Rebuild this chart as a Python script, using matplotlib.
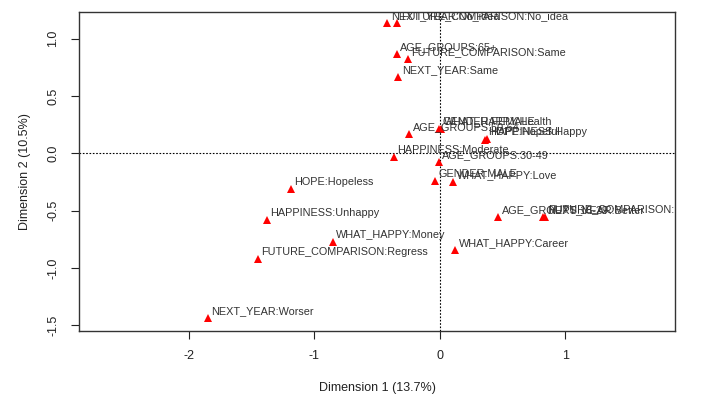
import matplotlib
matplotlib.use("Agg")
import matplotlib.pyplot as plt

plt.rcParams['font.family'] = ['Liberation Sans', 'DejaVu Sans']

labels = [
    "NEXT_YEAR:No_idea", "FUTURE_COMPARISON:No_idea",
    "AGE_GROUPS:65+", "FUTURE_COMPARISON:Same", "NEXT_YEAR:Same",
    "AGE_GROUPS:50-64", "GENDER:FEMALE", "WHAT_HAPPY:Health",
    "HOPE:Hopeful", "HAPPINESS:Happy",
    "HAPPINESS:Moderate", "AGE_GROUPS:30-49",
    "GENDER:MALE", "WHAT_HAPPY:Love",
    "HOPE:Hopeless", "HAPPINESS:Unhappy",
    "AGE_GROUPS:18-29", "NEXT_YEAR:Better", "FUTURE_COMPARISON:Improve",
    "WHAT_HAPPY:Money", "FUTURE_COMPARISON:Regress", "WHAT_HAPPY:Career",
    "NEXT_YEAR:Worser",
]
dim1 = [-0.42, -0.34,
        -0.345, -0.255, -0.33,
        -0.245, -0.01, 0.005,
        0.36, 0.375,
        -0.367, -0.01,
        -0.04, 0.106,
        -1.187, -1.378,
        0.465, 0.823, 0.836,
        -0.853, -1.45, 0.122,
        -1.849]
dim2 = [1.136, 1.136,
        0.866, 0.822, 0.663,
        0.166, 0.21, 0.215,
        0.12, 0.125,
        -0.032, -0.078,
        -0.242, -0.253,
        -0.311, -0.581,
        -0.558, -0.553, -0.553,
        -0.773, -0.922, -0.843,
        -1.436]

xlabel = "Dimension 1 (13.7%)"
ylabel = "Dimension 2 (10.5%)"
xticks = [-2, -1, 0, 1]
yticks = [-1.5, -1.0, -0.5, 0.0, 0.5, 1.0]

fig = plt.figure(figsize=(7.06, 3.94), dpi=100)
ax = fig.add_axes([0.1119, 0.160, 0.956 - 0.1119, 0.9695 - 0.160])

ax.axhline(0, color='black', lw=0.8, ls=(0, (1.5, 1.5)), zorder=1)
ax.axvline(0, color='black', lw=0.8, ls=(0, (1.5, 1.5)), zorder=1)

ax.plot(dim1, dim2, linestyle='none', marker='^', color='#ff0000',
        markersize=5.5, markeredgewidth=0, zorder=3)
for lab, x, y in zip(labels, dim1, dim2):
    ax.annotate(lab, (x, y), xytext=(2.5, 1.5), textcoords='offset points',
                ha='left', va='bottom', fontsize=7.8, color='#333333',
                annotation_clip=False, clip_on=True, zorder=4)

ax.set_xlim(-2.876, 1.873)
ax.set_ylim(-1.549, 1.232)
ax.set_xticks(xticks)
ax.set_xticklabels([str(t) for t in xticks])
ax.set_yticks(yticks)
ax.set_yticklabels([f"{t:.1f}" for t in yticks], rotation=90, va='center')
ax.tick_params(direction='out', length=6, width=0.8, labelsize=9,
               colors='#222222', pad=8)
for s in ax.spines.values():
    s.set_color('#333333')
    s.set_linewidth(1.0)
ax.set_xlabel(xlabel, fontsize=9, color='#222222', labelpad=14)
ax.set_ylabel(ylabel, fontsize=9, color='#222222', labelpad=12)

fig.savefig("out.png", dpi=100)
